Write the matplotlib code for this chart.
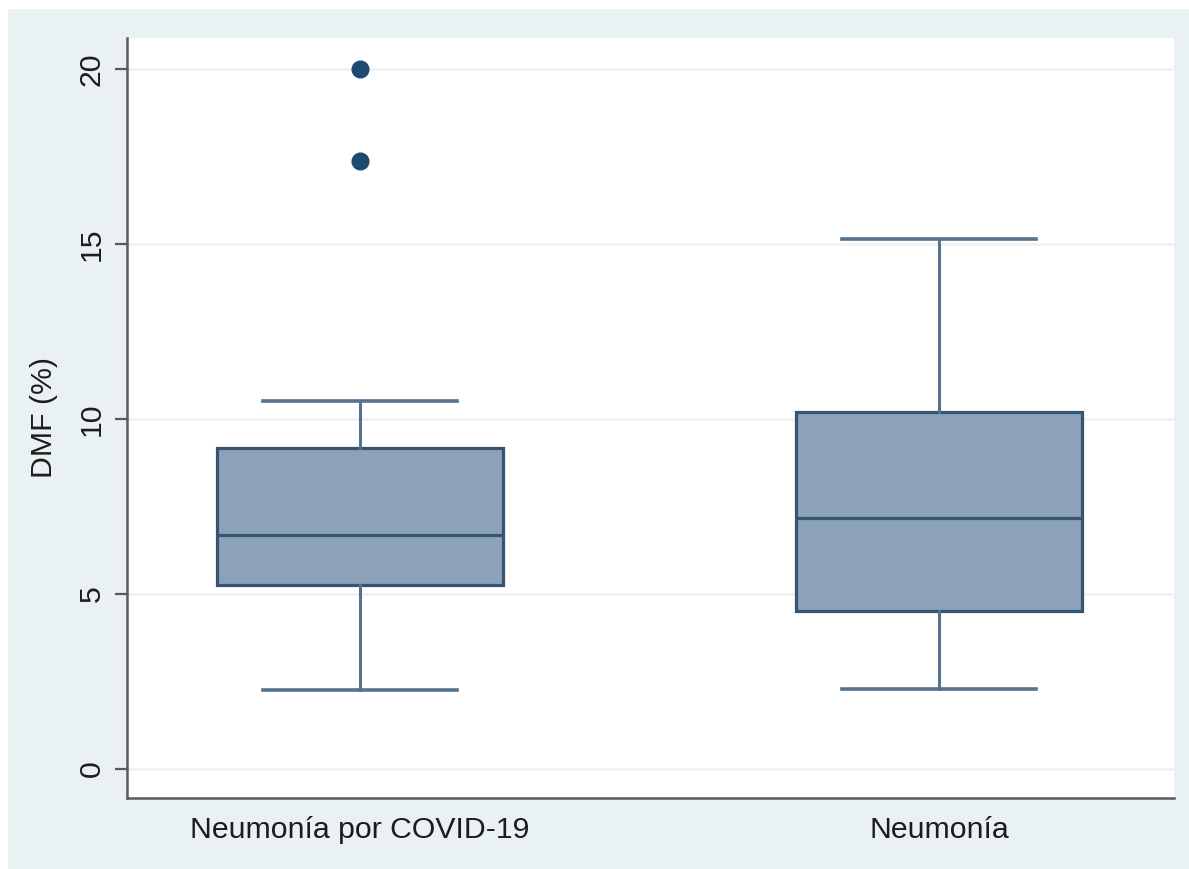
import matplotlib.pyplot as plt
from matplotlib.patches import Rectangle

# box summary values
groups = ['Neumonía por COVID-19', 'Neumonía']
whislo = [2.26, 2.29]
q1 = [5.26, 4.51]
med = [6.69, 7.17]
q3 = [9.17, 10.20]
whishi = [10.51, 15.13]
fliers = [[17.37, 20.0], []]
yticks = [0, 5, 10, 15, 20]

plt.rcParams['font.family'] = ['Liberation Sans', 'DejaVu Sans']

fig = plt.figure(figsize=(11.89, 8.69), dpi=100, facecolor='white')
# stata style light outer panel
fig.add_artist(Rectangle((8 / 1189., 0), 1, 1 - 9 / 869., transform=fig.transFigure,
                         facecolor='#eaf1f3', edgecolor='none', zorder=-5))

ax = fig.add_axes([127 / 1189., 1 - 798 / 869., (1174 - 127) / 1189., (798 - 38) / 869.])
ax.set_facecolor('white')

stats = []
for i in range(len(groups)):
    stats.append({'whislo': whislo[i], 'q1': q1[i], 'med': med[i], 'q3': q3[i],
                  'whishi': whishi[i], 'fliers': fliers[i], 'label': groups[i]})

edge = '#375473'
ax.bxp(stats, positions=[1, 2], widths=0.494, patch_artist=True, showfliers=True,
       boxprops=dict(facecolor='#8ca2b8', edgecolor=edge, linewidth=2.3),
       medianprops=dict(color=edge, linewidth=2.3),
       whiskerprops=dict(color='#56728f', linewidth=2.2),
       capprops=dict(color='#56728f', linewidth=2.6),
       capwidths=0.335,
       flierprops=dict(marker='o', markerfacecolor='#1d4a73', markeredgecolor='#1d4a73',
                       markersize=12))

ax.set_xlim(0.598, 2.405)
ax.set_ylim(-0.84, 20.89)
ax.set_yticks(yticks)
ax.set_yticklabels([str(t) for t in yticks], rotation=90, va='center')
ax.yaxis.grid(True, color='#eef1f2', linewidth=1.8)
ax.set_axisbelow(True)

for s in ['top', 'right']:
    ax.spines[s].set_visible(False)
for s in ['left', 'bottom']:
    ax.spines[s].set_color('#5a5a5a')
    ax.spines[s].set_linewidth(1.8)

ax.tick_params(axis='y', length=8.5, width=1.6, color='#5a5a5a', pad=7,
               labelsize=21.8, labelcolor='#1c1c1c')
ax.tick_params(axis='x', length=0, pad=13, labelsize=21.8, labelcolor='#1c1c1c')
ax.set_ylabel('DMF (%)', fontsize=21.8, color='#1c1c1c', labelpad=14)

fig.savefig('out.png', dpi=100, facecolor=fig.get_facecolor())
